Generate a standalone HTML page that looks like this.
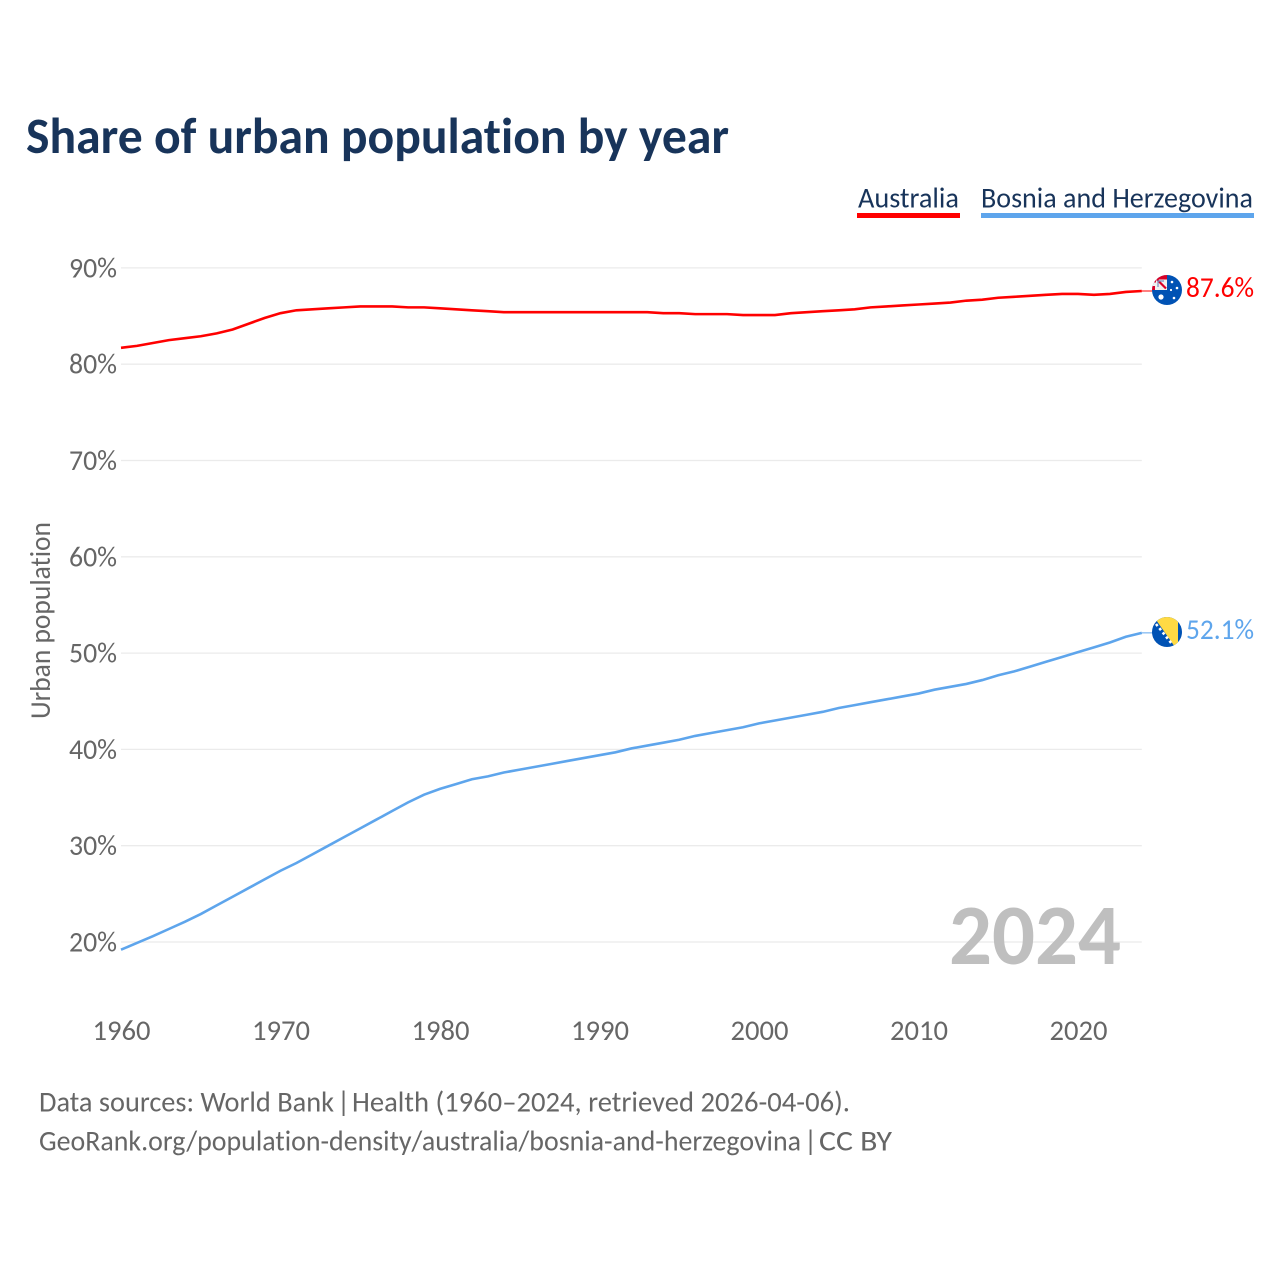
<!DOCTYPE html>
<html lang="en">
<head>
<meta charset="utf-8">
<title>Share of urban population by year</title>
<style>
html,body{margin:0;padding:0;background:#fff;width:1280px;height:1280px;overflow:hidden}
svg{display:block}
text{font-family:"Carlito","Liberation Sans",sans-serif;font-variant-ligatures:none;font-feature-settings:"liga" 0,"kern" 1}
</style>
</head>
<body>
<svg id="chart" width="1280" height="1280" viewBox="0 0 1280 1280" xmlns="http://www.w3.org/2000/svg">
  <defs>
    <clipPath id="clip-au"><circle cx="1167" cy="290" r="15"/></clipPath>
    <clipPath id="clip-ba"><circle cx="1167" cy="632" r="15"/></clipPath>
  </defs>
  <rect width="1280" height="1280" fill="#fff"/>
  <text x="26" y="153" font-size="51" font-weight="700" fill="#18345a" textLength="703" lengthAdjust="spacingAndGlyphs">Share of urban population by year</text>

  <g>
    <text x="858" y="207.500" font-size="28.500" fill="#18345a" textLength="101" lengthAdjust="spacingAndGlyphs">Australia</text>
    <rect x="857" y="213" width="103" height="5" fill="#ff0000"/>
  </g>
  <g>
    <text x="981" y="207.500" font-size="28.500" fill="#18345a" textLength="272" lengthAdjust="spacingAndGlyphs">Bosnia and Herzegovina</text>
    <rect x="981" y="213" width="273" height="5" fill="#5ea5ec"/>
  </g>

  <g id="grid"></g>
  <g id="yticks"></g>
  <g id="xticks"></g>
  <text transform="translate(50,719) rotate(-90)" font-size="28.500" fill="#666" textLength="197" lengthAdjust="spacingAndGlyphs">Urban population</text>

  <text x="949" y="964" font-size="86" font-weight="700" fill="#bfbfbf" textLength="172" lengthAdjust="spacingAndGlyphs">2024</text>

  <g id="series"></g>

  <g clip-path="url(#clip-au)">
    <rect x="1152" y="275" width="30" height="30" fill="#0052b4"/>
    <rect x="1152" y="275" width="15" height="15" fill="#f0f0f0"/>
    <path d="M1152 275h15v4.500h-11v3h-4z" fill="#d80027"/>
    <path d="M1157 279.500l9 9" stroke="#d80027" stroke-width="2.200"/>
    <path d="M1158 287v-6h6" stroke="#7a8fc0" stroke-width="1.200" fill="none"/>
    <path d="M1152 286h3v4h-3z" fill="#d80027"/>
    <circle cx="1161" cy="297" r="2.600" fill="#fff"/>
    <circle cx="1172" cy="282" r="1.300" fill="#fff"/>
    <circle cx="1177" cy="288" r="1.300" fill="#fff"/>
    <circle cx="1171" cy="290" r="1.100" fill="#fff"/>
    <circle cx="1174" cy="298" r="1.300" fill="#fff"/>
  </g>
  <g clip-path="url(#clip-ba)">
    <rect x="1152" y="617" width="30" height="30" fill="#0052b4"/>
    <path d="M1154 617H1178V647H1175Z" fill="#ffda44"/>
    <path d="M1156 624l16 20" stroke="#fff" stroke-width="2.600" stroke-dasharray="2.600 2.800" fill="none"/>
  </g>

  <text x="1186" y="297" font-size="28.500" fill="#ff0000" textLength="68" lengthAdjust="spacingAndGlyphs">87.6%</text>
  <text x="1186" y="639" font-size="28.500" fill="#5ea5ec" textLength="68" lengthAdjust="spacingAndGlyphs">52.1%</text>

  <g font-size="28.500" fill="#666">
    <text x="39" y="1111.500" textLength="295" lengthAdjust="spacingAndGlyphs">Data sources: World Bank</text>
    <text x="337" y="1111.500">|</text>
    <text x="352" y="1111.500" textLength="498" lengthAdjust="spacingAndGlyphs">Health (1960–2024, retrieved 2026-04-06).</text>
  </g>
  <g font-size="28.500" fill="#666">
    <text x="39" y="1150.500" textLength="762" lengthAdjust="spacingAndGlyphs">GeoRank.org/population-density/australia/bosnia-and-herzegovina</text>
    <text x="804" y="1150.500">|</text>
    <text x="819" y="1150.500" textLength="73" lengthAdjust="spacingAndGlyphs">CC BY</text>
  </g>
</svg>
<script>
const years = [1960,1961,1962,1963,1964,1965,1966,1967,1968,1969,1970,1971,1972,1973,1974,1975,1976,1977,1978,1979,1980,1981,1982,1983,1984,1985,1986,1987,1988,1989,1990,1991,1992,1993,1994,1995,1996,1997,1998,1999,2000,2001,2002,2003,2004,2005,2006,2007,2008,2009,2010,2011,2012,2013,2014,2015,2016,2017,2018,2019,2020,2021,2022,2023,2024];
const australiaValues = [81.7,81.9,82.2,82.5,82.7,82.9,83.2,83.6,84.2,84.8,85.3,85.6,85.7,85.8,85.9,86.0,86.0,86.0,85.9,85.9,85.8,85.7,85.6,85.5,85.4,85.4,85.4,85.4,85.4,85.4,85.4,85.4,85.4,85.4,85.3,85.3,85.2,85.2,85.2,85.1,85.1,85.1,85.3,85.4,85.5,85.6,85.7,85.9,86.0,86.1,86.2,86.3,86.4,86.6,86.7,86.9,87.0,87.1,87.2,87.3,87.3,87.2,87.3,87.5,87.6];
const bosniaValues = [19.2,19.9,20.6,21.35,22.1,22.9,23.8,24.7,25.6,26.5,27.4,28.2,29.1,30.0,30.9,31.8,32.7,33.6,34.5,35.3,35.9,36.4,36.9,37.2,37.6,37.9,38.2,38.5,38.8,39.1,39.4,39.7,40.1,40.4,40.7,41.0,41.4,41.7,42.0,42.3,42.7,43.0,43.3,43.6,43.9,44.3,44.6,44.9,45.2,45.5,45.8,46.2,46.5,46.8,47.2,47.7,48.1,48.6,49.1,49.6,50.1,50.6,51.1,51.7,52.1];
const yTickValues = [20,30,40,50,60,70,80,90];
const yTickLabels = ['20%','30%','40%','50%','60%','70%','80%','90%'];
const xTickValues = [1960,1970,1980,1990,2000,2010,2020];
const xTickLabels = ['1960','1970','1980','1990','2000','2010','2020'];

const NS = 'http://www.w3.org/2000/svg';
const xScale = function (year) { return 121 + (year - 1960) * 15.95; };
const yScale = function (v) { return 942 - (v - 20) * 9.63; };
const gridG = document.getElementById('grid');
const yG = document.getElementById('yticks');
const xG = document.getElementById('xticks');
const seriesG = document.getElementById('series');

yTickValues.forEach(function (v, i) {
  const line = document.createElementNS(NS, 'line');
  
  
  line.setAttribute('x1', xScale(1960));
  line.setAttribute('x2', xScale(2024));
  line.setAttribute('y1', yScale(v));
  line.setAttribute('y2', yScale(v));
  line.setAttribute('stroke', '#ebebeb');
  line.setAttribute('stroke-width', '1.3');
  gridG.appendChild(line);

  const t = document.createElementNS(NS, 'text');
  
  
  t.setAttribute('x', 69);
  t.setAttribute('y', yScale(v) + 9.5);
  t.setAttribute('font-size', '28.5');
  t.setAttribute('fill', '#666');
  t.setAttribute('textLength', '48');
  t.setAttribute('lengthAdjust', 'spacingAndGlyphs');
  t.textContent = yTickLabels[i];
  yG.appendChild(t);
});

xTickValues.forEach(function (year, i) {
  const t = document.createElementNS(NS, 'text');
  
  
  t.setAttribute('x', xScale(year) - 28.5);
  t.setAttribute('y', 1040);
  t.setAttribute('font-size', '28.5');
  t.setAttribute('fill', '#666');
  t.setAttribute('textLength', '58');
  t.setAttribute('lengthAdjust', 'spacingAndGlyphs');
  t.textContent = xTickLabels[i];
  xG.appendChild(t);
});

function linePoints(values) {
  return values.map(function (v, i) {
    return xScale(years[i]).toFixed(2) + ',' + yScale(v).toFixed(2);
  }).join(' ');
}

const ausLine = document.createElementNS(NS, 'polyline');


ausLine.setAttribute('points', linePoints(australiaValues));
ausLine.setAttribute('fill', 'none');
ausLine.setAttribute('stroke', '#ff0000');
ausLine.setAttribute('stroke-width', '2.6');
seriesG.appendChild(ausLine);

const bosLine = document.createElementNS(NS, 'polyline');


bosLine.setAttribute('points', linePoints(bosniaValues));
bosLine.setAttribute('fill', 'none');
bosLine.setAttribute('stroke', '#5ea5ec');
bosLine.setAttribute('stroke-width', '2.6');
seriesG.appendChild(bosLine);

const ausLead = document.createElementNS(NS, 'line');


ausLead.setAttribute('x1', xScale(2024));
ausLead.setAttribute('x2', 1153);
ausLead.setAttribute('y1', yScale(australiaValues[australiaValues.length - 1]));
ausLead.setAttribute('y2', yScale(australiaValues[australiaValues.length - 1]));
ausLead.setAttribute('stroke', '#ff0000');
ausLead.setAttribute('stroke-width', '1');
seriesG.appendChild(ausLead);

const bosLead = document.createElementNS(NS, 'line');


bosLead.setAttribute('x1', xScale(2024));
bosLead.setAttribute('x2', 1153);
bosLead.setAttribute('y1', yScale(bosniaValues[bosniaValues.length - 1]));
bosLead.setAttribute('y2', yScale(bosniaValues[bosniaValues.length - 1]));
bosLead.setAttribute('stroke', '#5ea5ec');
bosLead.setAttribute('stroke-width', '1');
seriesG.appendChild(bosLead);
</script>
</body>
</html>
